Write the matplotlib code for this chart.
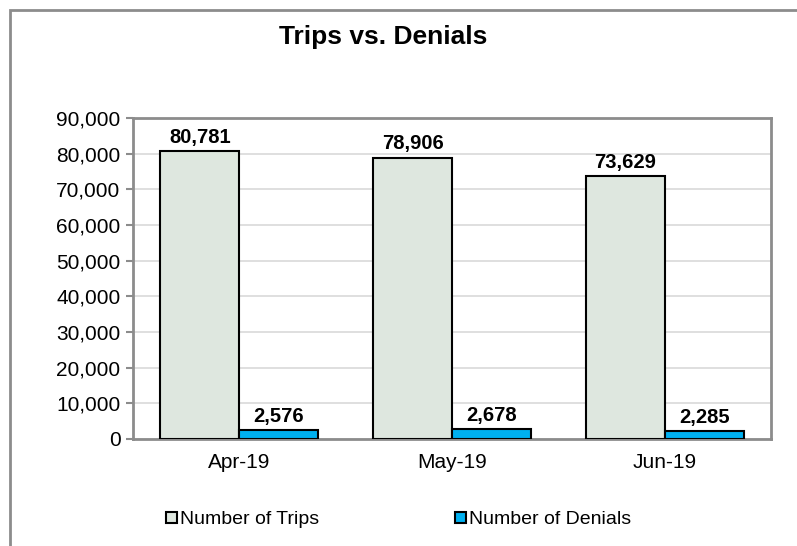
import numpy as np
import matplotlib.pyplot as plt
from matplotlib.patches import Patch, Rectangle
from matplotlib.ticker import FuncFormatter

plt.rcParams['font.family'] = ['Liberation Sans', 'DejaVu Sans']

months = ['Apr-19', 'May-19', 'Jun-19']
trips = [80781, 78906, 73629]
denials = [2576, 2678, 2285]
series_names = ['Number of Trips', 'Number of Denials']
y_ticks = list(range(0, 90001, 10000))

trip_color = '#DEE7DF'
denial_color = '#00B0F0'
frame_gray = '#8C8C8C'


def main():
    fig = plt.figure(figsize=(7.97, 5.46), dpi=100)
    W, H = 797, 546

    # outer chart border (only left/top visible, rest is cropped)
    fig.patches.append(Rectangle((10 / W, -0.1), 1.2, (H - 10) / H + 0.1,
                                 transform=fig.transFigure, fill=False,
                                 edgecolor=frame_gray, linewidth=2))

    ax = fig.add_axes([133 / W, 1 - 439 / H, (771 - 133) / W, (439 - 118) / H])
    x = np.arange(len(months))
    w = 0.371
    b1 = ax.bar(x - w / 2, trips, w, color=trip_color, edgecolor='black', linewidth=1.5, zorder=3)
    b2 = ax.bar(x + w / 2, denials, w, color=denial_color, edgecolor='black', linewidth=1.5, zorder=3)

    for bars, vals in ((b1, trips), (b2, denials)):
        for r, v in zip(bars, vals):
            ax.annotate(f'{v:,}', (r.get_x() + r.get_width() / 2, v),
                        xytext=(0, 3), textcoords='offset points',
                        ha='center', va='bottom', fontsize=14.5, fontweight='bold')

    ax.set_xlim(-0.5, 2.5)
    ax.set_ylim(0, 90000)
    ax.set_yticks(y_ticks)
    ax.yaxis.set_major_formatter(FuncFormatter(lambda v, p: f'{int(v):,}'))
    ax.set_xticks(x)
    ax.set_xticklabels(months)
    ax.tick_params(axis='y', labelsize=15, length=5, width=1.5, color=frame_gray, pad=4)
    ax.tick_params(axis='x', labelsize=15, length=0, pad=10)
    ax.grid(axis='y', color='#D9D9D9', linewidth=1.2, zorder=0)
    for s in ax.spines.values():
        s.set_color(frame_gray)
        s.set_linewidth(2)

    fig.text(383 / W, 1 - 37 / H, 'Trips vs. Denials', ha='center', va='center',
             fontsize=19, fontweight='bold')

    handles = [Patch(facecolor=trip_color, edgecolor='black', linewidth=1.5),
               Patch(facecolor=denial_color, edgecolor='black', linewidth=1.5)]
    fig.legend(handles, series_names, loc='center', bbox_to_anchor=(0.5, 1 - 520 / H),
               ncol=2, frameon=False, fontsize=14, handlelength=0.55, handleheight=0.55,
               handletextpad=0.15, columnspacing=7)

    fig.savefig('out.png', dpi=100)


if __name__ == '__main__':
    main()
